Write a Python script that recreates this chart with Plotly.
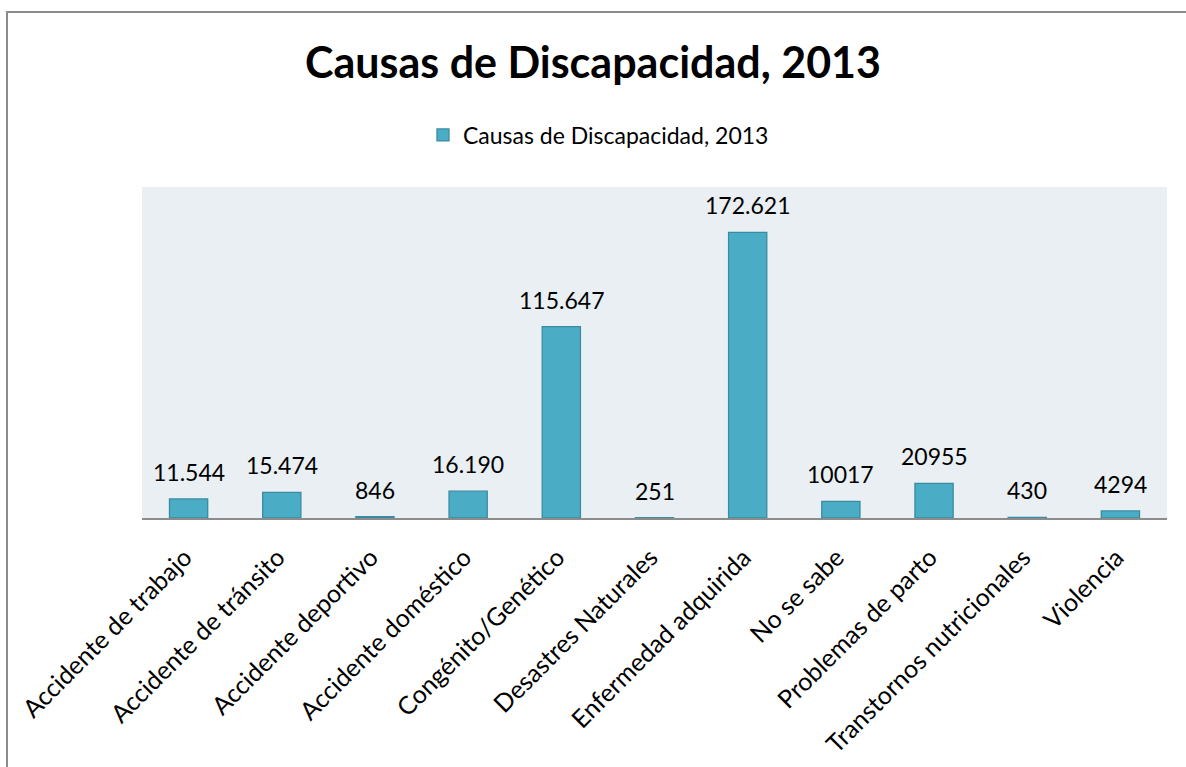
import plotly.graph_objects as go

categories = [
    "Accidente de trabajo", "Accidente de tránsito", "Accidente deportivo",
    "Accidente doméstico", "Congénito/Genético", "Desastres Naturales",
    "Enfermedad adquirida", "No se sabe", "Problemas de parto",
    "Transtornos nutricionales", "Violencia",
]
values = [11544, 15474, 846, 16190, 115647, 251, 172621, 10017, 20955, 430, 4294]
value_labels = ["11.544", "15.474", "846", "16.190", "115.647", "251",
                "172.621", "10017", "20955", "430", "4294"]
series_name = "Causas de Discapacidad, 2013"
title_text = "Causas de Discapacidad, 2013"

FONT = "Lato"
W, H = 1186, 767
ML, MR, MT, MB = 142, 19, 187, 249
pw = W - ML - MR
ph = H - MT - MB

fig = go.Figure()
fig.add_trace(go.Bar(
    x=categories, y=values, name=series_name,
    marker=dict(color="#4BACC6", line=dict(color="#3A8BA1", width=1.3)),
    width=0.41, cliponaxis=False, showlegend=True,
))

annotations = []
for cat, val, lab in zip(categories, values, value_labels):
    annotations.append(dict(
        x=cat, y=val, xref="x", yref="y", text=lab, showarrow=False,
        xanchor="center", yanchor="bottom", yshift=11,
        font=dict(family=FONT, size=23, color="#000000"),
    ))

def px_x(x):
    return (x - ML) / pw

def px_y(y):
    return (H - MB - y) / ph

fig.update_layout(
    width=W, height=H,
    margin=dict(l=ML, r=MR, t=MT, b=MB, autoexpand=False),
    paper_bgcolor="#FFFFFF",
    plot_bgcolor="#E9EFF2",
    title=dict(text="<b>" + title_text + "</b>", x=0.5, xref="container", xanchor="center",
               y=1 - 63 / H, yref="container", yanchor="middle",
               font=dict(family=FONT, size=43, color="#000000")),
    legend=dict(orientation="h", x=0.5 - 56 / pw, xanchor="center", y=px_y(135), yanchor="middle",
                font=dict(family=FONT, size=23, color="#000000"),
                bgcolor="rgba(0,0,0,0)"),
    xaxis=dict(tickangle=-45, showgrid=False, showline=True, linecolor="#8C8C8C",
               linewidth=2, ticks="", tickfont=dict(family=FONT, size=25, color="#000000"),
               ticklabelshift=-4, ticklabelstandoff=13, automargin=False,
               fixedrange=True),
    yaxis=dict(range=[0, 200000], showgrid=False, showticklabels=False, zeroline=False,
               showline=False, ticks="", fixedrange=True, automargin=False),
    bargap=0.59,
    showlegend=True,
    annotations=annotations,
    shapes=[
        dict(type="line", xref="paper", yref="paper", x0=px_x(7), x1=px_x(7),
             y0=px_y(11), y1=px_y(800), line=dict(color="#8C8C8C", width=2)),
        dict(type="line", xref="paper", yref="paper", x0=px_x(6), x1=px_x(1200),
             y0=px_y(12), y1=px_y(12), line=dict(color="#8C8C8C", width=2)),
    ],
)

fig.write_html("out.html")
